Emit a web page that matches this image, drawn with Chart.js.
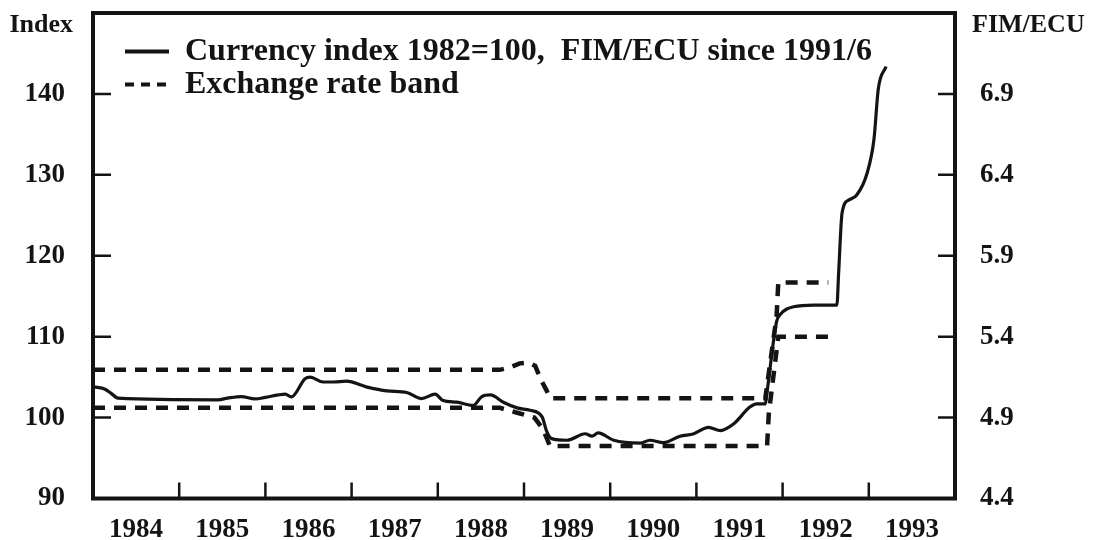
<!DOCTYPE html>
<html>
<head>
<meta charset="utf-8">
<script src="https://cdn.jsdelivr.net/npm/chart.js@4"></script>
<style>
  html, body { margin: 0; padding: 0; background: #fff; }
  #wrap { width: 1098px; height: 540px; }
</style>
</head>
<body>
<div id="wrap"><canvas id="chart"></canvas></div>
<script>
const yearLabels = ['1984', '1985', '1986', '1987', '1988', '1989', '1990', '1991', '1992', '1993'];
const indexTicks = [90, 100, 110, 120, 130, 140];
const fimTicks = [4.4, 4.9, 5.4, 5.9, 6.4, 6.9];

// currency index 1982=100 (FIM/ECU since 1991/6), read on the index scale
const indexYears = [
    1984.01, 1984.14, 1984.21, 1984.29, 1985.45, 1985.56, 1985.72, 1985.88, 1986.00, 1986.15,
    1986.23, 1986.30, 1986.46, 1986.52, 1986.67, 1986.79, 1986.94, 1987.17, 1987.41, 1987.64,
    1987.81, 1987.97, 1988.06, 1988.22, 1988.41, 1988.51, 1988.61, 1988.76, 1988.92, 1989.07,
    1989.21, 1989.26, 1989.32, 1989.50, 1989.71, 1989.79, 1989.86, 1990.04, 1990.35, 1990.46,
    1990.62, 1990.81, 1990.97, 1991.14, 1991.28, 1991.43, 1991.62, 1991.70, 1991.80, 1991.82,
    1991.93, 1991.97, 1992.13, 1992.36, 1992.63, 1992.65, 1992.69, 1992.77, 1992.86, 1992.98,
    1993.06, 1993.11, 1993.20
];
const indexValues = [
    103.8, 103.5, 103.0, 102.4, 102.2, 102.4, 102.6, 102.3, 102.5, 102.8,
    102.9, 102.55, 104.8, 105.0, 104.4, 104.4, 104.5, 103.8, 103.3, 103.1,
    102.35, 102.9, 102.1, 101.9, 101.5, 102.6, 102.8, 101.9, 101.2, 100.9,
    100.1, 98.4, 97.4, 97.2, 98.0, 97.7, 98.1, 97.2, 96.85, 97.2,
    96.9, 97.7, 98.0, 98.8, 98.4, 99.2, 101.3, 101.7, 101.7, 103.2,
    111.85, 112.7, 113.7, 113.9, 113.9, 117.85, 125.3, 126.9, 127.5, 130.2,
    134.4, 140.6, 143.4
];

// exchange rate band, upper and lower edge
const bandUpperYears = [1984.0, 1988.72, 1988.84, 1988.95, 1989.05, 1989.13, 1989.20, 1989.26, 1989.30, 1991.80, 1991.93, 1991.95, 1992.53];
const bandUpperValues = [105.9, 105.9, 106.2, 106.7, 106.8, 106.4, 104.6, 103.4, 102.4, 102.4, 112.5, 116.7, 116.7];
const bandLowerYears = [1984.0, 1988.72, 1988.92, 1989.12, 1989.22, 1989.30, 1991.82, 1991.84, 1991.95, 1992.53];
const bandLowerValues = [101.2, 101.2, 100.6, 100.0, 98.6, 96.5, 96.5, 100.5, 110.0, 110.0];

const toPoints = (xs, ys) => xs.map((x, i) => ({x: x, y: ys[i]}));

const serif = '"Liberation Serif", "Times New Roman", serif';
const ink = '#141414';
Chart.defaults.font.family = serif;
Chart.defaults.font.weight = 'bold';
Chart.defaults.color = ink;

// frame, inward tick marks and the two axis titles
const framePlugin = {
    id: 'frame',
    afterLayout(chart) {
        // legend sits inside the plot, top left
        const lg = chart.legend;
        lg.left = 124;
        lg.right = lg.left + 800;
        lg.top = 34.5;
        lg.bottom = 250;
    },
    afterDraw(chart) {
        const {ctx, chartArea: a, scales} = chart;
        ctx.save();
        ctx.strokeStyle = ink;
        ctx.lineWidth = 2.5;
        ctx.beginPath();
        indexTicks.slice(1).forEach(v => {
            const y = scales.y.getPixelForValue(v);
            ctx.moveTo(a.left, y);
            ctx.lineTo(a.left + 18, y);
        });
        fimTicks.slice(1).forEach(v => {
            const y = scales.y2.getPixelForValue(v);
            ctx.moveTo(a.right, y);
            ctx.lineTo(a.right - 17, y);
        });
        for (let i = 1; i < yearLabels.length; i++) {
            const x = scales.x.getPixelForValue(Number(yearLabels[i]));
            ctx.moveTo(x, a.bottom);
            ctx.lineTo(x, a.bottom - 16);
        }
        ctx.stroke();
        ctx.lineWidth = 4;
        ctx.strokeRect(a.left, a.top, a.right - a.left, a.bottom - a.top);

        ctx.fillStyle = ink;
        ctx.font = 'bold 26px ' + serif;
        ctx.textBaseline = 'middle';
        ctx.textAlign = 'right';
        ctx.fillText('Index', scales.y.right - 20, 25);
        ctx.textAlign = 'left';
        ctx.fillText('FIM/ECU', scales.y2.left + 17, 25);
        ctx.restore();
    }
};

const noPad = scale => {
    scale.paddingTop = 0;
    scale.paddingBottom = 0;
    scale.paddingLeft = 0;
    scale.paddingRight = 0;
};

new Chart(document.getElementById('chart'), {
    type: 'line',
    data: {
        datasets: [{
            label: 'Currency index 1982=100,  FIM/ECU since 1991/6',
            data: toPoints(indexYears, indexValues),
            borderColor: ink,
            borderWidth: 3.2,
            cubicInterpolationMode: 'monotone',
            pointRadius: 0
        }, {
            label: 'Exchange rate band',
            data: toPoints(bandUpperYears, bandUpperValues),
            borderColor: ink,
            borderWidth: 4.5,
            borderDash: [12, 9],
            tension: 0,
            pointRadius: 0
        }, {
            label: 'band lower',
            data: toPoints(bandLowerYears, bandLowerValues),
            borderColor: ink,
            borderWidth: 4.5,
            borderDash: [12, 9],
            tension: 0,
            pointRadius: 0
        }]
    },
    options: {
        responsive: true,
        maintainAspectRatio: false,
        animation: false,
        events: [],
        layout: {
            padding: {top: 13, left: 0, right: 0, bottom: 0}
        },
        plugins: {
            tooltip: {enabled: false},
            legend: {
                position: 'chartArea',
                align: 'start',
                labels: {
                    usePointStyle: true,
                    pointStyle: 'line',
                    pointStyleWidth: 44,
                    padding: 1,
                    color: ink,
                    font: {size: 32, weight: 'bold'},
                    generateLabels(chart) {
                        const items = Chart.defaults.plugins.legend.labels.generateLabels(chart);
                        return items.filter(it => it.datasetIndex !== 2).map(it => {
                            it.lineWidth = 4;
                            if (it.datasetIndex === 1) it.lineDash = [9, 7];
                            return it;
                        });
                    }
                }
            }
        },
        scales: {
            x: {
                type: 'linear',
                position: 'bottom',
                min: 1984,
                max: 1994,
                grid: {display: false},
                border: {display: false},
                afterBuildTicks(scale) {
                    scale.ticks = yearLabels.map(y => ({value: Number(y) + 0.5}));
                },
                afterFit(scale) {
                    scale.height = 41.5;
                    noPad(scale);
                },
                ticks: {
                    autoSkip: false,
                    maxRotation: 0,
                    padding: 7,
                    font: {size: 27},
                    callback: v => yearLabels[Math.floor(v) - 1984]
                }
            },
            y: {
                position: 'left',
                min: 90,
                max: 150,
                grid: {display: false},
                border: {display: false},
                afterBuildTicks(scale) {
                    scale.ticks = indexTicks.map(v => ({value: v}));
                },
                afterFit(scale) {
                    scale.width = 93;
                    noPad(scale);
                },
                ticks: {
                    padding: 20,
                    font: {size: 27}
                }
            },
            y2: {
                position: 'right',
                min: 4.4,
                max: 7.4,
                grid: {display: false},
                border: {display: false},
                afterBuildTicks(scale) {
                    scale.ticks = fimTicks.map(v => ({value: v}));
                },
                afterFit(scale) {
                    scale.width = 143;
                    noPad(scale);
                },
                ticks: {
                    padding: 17,
                    font: {size: 27},
                    callback: v => v.toFixed(1)
                }
            }
        }
    },
    plugins: [framePlugin]
});
</script>
</body>
</html>
